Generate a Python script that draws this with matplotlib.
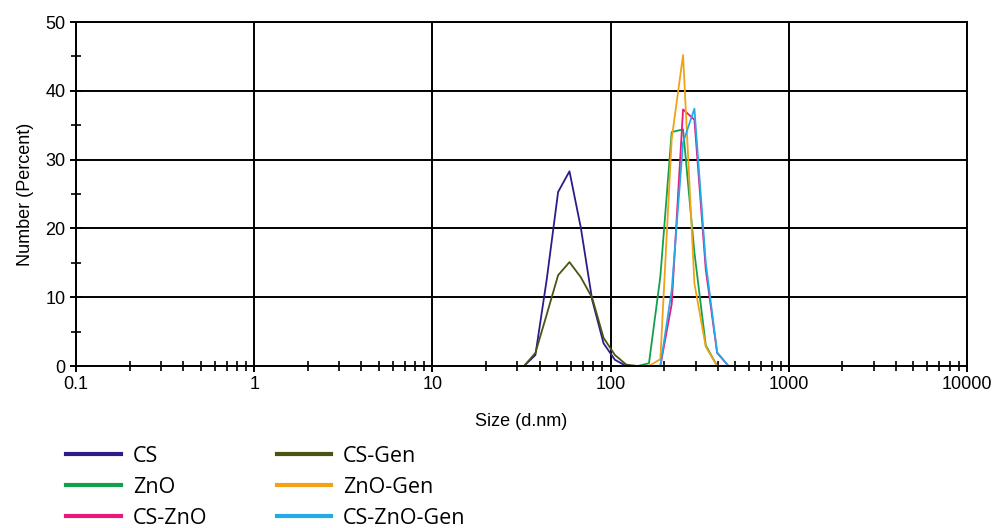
import matplotlib.pyplot as plt
import numpy as np
from matplotlib.ticker import FixedLocator, LogLocator, NullFormatter, MultipleLocator

# Zetasizer size classes (d.nm), 70 log-spaced bins 0.4 .. 10000
sizes = np.geomspace(0.4, 10000, 70)

# non-zero part of each distribution, keyed by bin size
cs = {32.67: 0, 37.84: 1.6, 43.82: 12.6, 50.75: 25.3, 58.77: 28.3, 68.06: 20.1,
      78.82: 9.6, 91.28: 3.3, 105.7: 0.9, 122.4: 0}
cs_gen = {32.67: 0, 37.84: 1.9, 43.82: 7.5, 50.75: 13.2, 58.77: 15.1, 68.06: 12.9,
          78.82: 9.9, 91.28: 4.1, 105.7: 1.6, 122.4: 0.2, 141.8: 0}
zno = {141.8: 0, 164.2: 0.4, 190.1: 13.0, 220.2: 34.0, 255.0: 34.4, 295.3: 16.5,
       342.0: 3.0, 396.1: 0}
zno_gen = {164.2: 0, 190.1: 1.0, 220.2: 33.0, 255.0: 45.2, 295.3: 12.0, 342.0: 2.8,
           396.1: 0}
cs_zno = {190.1: 0, 220.2: 9.0, 255.0: 37.3, 295.3: 35.8, 342.0: 14.0, 396.1: 1.9,
          458.7: 0}
cs_zno_gen = {190.1: 0, 220.2: 11.0, 255.0: 32.5, 295.3: 37.4, 342.0: 15.0, 396.1: 2.0,
              458.7: 0}

series = [
    ("CS", cs, "#2d1b8a"),
    ("ZnO", zno, "#13a04c"),
    ("CS-ZnO", cs_zno, "#e8187c"),
    ("CS-Gen", cs_gen, "#4b5412"),
    ("ZnO-Gen", zno_gen, "#f2a216"),
    ("CS-ZnO-Gen", cs_zno_gen, "#25aae8"),
]


def fill(d):
    y = np.zeros(len(sizes))
    for k, v in d.items():
        y[np.argmin(np.abs(np.log(sizes / k)))] = v
    return y


plt.rcParams['font.family'] = ['Liberation Sans', 'DejaVu Sans']

fig = plt.figure(figsize=(9.96, 5.28), dpi=100)
ax = fig.add_axes([0.0763, 0.3068, 0.8946, 0.6515])

for name, d, col in series:
    ax.plot(sizes, fill(d), color=col, lw=1.3, label=name)

ax.set_xscale('log')
ax.set_xlim(0.1, 10000)
ax.set_ylim(0, 50)
ax.xaxis.set_major_locator(FixedLocator([0.1, 1, 10, 100, 1000, 10000]))
ax.set_xticklabels(["0.1", "1", "10", "100", "1000", "10000"])
ax.xaxis.set_minor_locator(LogLocator(base=10, subs=np.arange(2, 10)))
ax.xaxis.set_minor_formatter(NullFormatter())
ax.yaxis.set_major_locator(MultipleLocator(10))
ax.yaxis.set_minor_locator(MultipleLocator(5))

ax.grid(True, which='major', color='black', lw=1.4)
ax.tick_params(which='both', direction='inout', color='black', labelsize=13)
ax.tick_params(which='major', length=8, width=1.4)
ax.tick_params(which='minor', length=7, width=1.2)
for s in ax.spines.values():
    s.set_linewidth(1.4)

ax.set_xlabel("Size (d.nm)", fontsize=13, labelpad=14)
ax.set_ylabel("Number (Percent)", fontsize=13, labelpad=8)

leg = fig.legend(loc='upper left', bbox_to_anchor=(0.058, 0.172), ncol=2,
                 frameon=False, prop={'family': 'Open Sans', 'size': 15.5},
                 handlelength=2.55, handletextpad=0.55, columnspacing=3.2,
                 labelspacing=0.47, borderaxespad=0)
for h in leg.get_lines():
    h.set_linewidth(3)

fig.savefig("out.png", dpi=100)
